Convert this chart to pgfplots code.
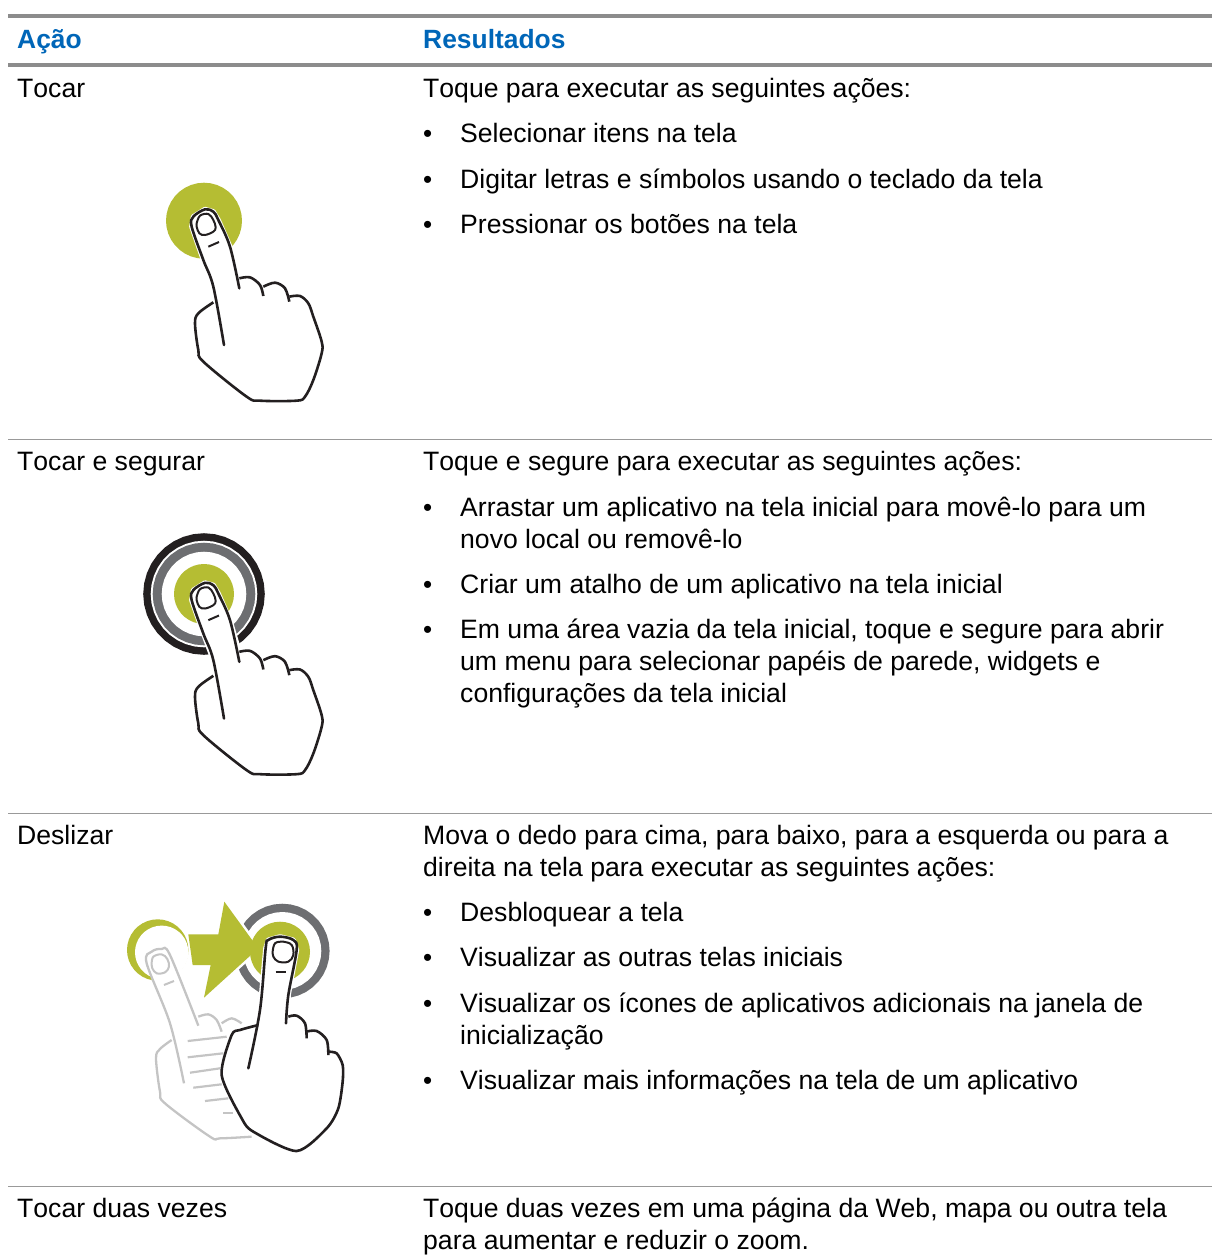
\documentclass[border=0pt]{standalone}
\usepackage{pgfplots}
\pgfplotsset{compat=1.18}
\usepackage{pgfplotstable}
\usepackage{fontspec}
\setmainfont[Kerning=Off]{Liberation Sans}
\definecolor{lime}{HTML}{B5BD33}
\definecolor{ringgray}{HTML}{6D6E71}
\definecolor{ink}{HTML}{231F20}
\definecolor{ghost}{HTML}{C4C4C4}
\definecolor{headblue}{HTML}{0066B8}
\definecolor{rulecol}{HTML}{8C8C8C}
\definecolor{thincol}{HTML}{999999}
\pgfplotstableread{
x y
1 0
.9848 .1736
.9397 .3420
.8660 .5
.7660 .6428
.6428 .7660
.5 .8660
.3420 .9397
.1736 .9848
0 1
-.1736 .9848
-.3420 .9397
-.5 .8660
-.6428 .7660
-.7660 .6428
-.8660 .5
-.9397 .3420
-.9848 .1736
-1 0
-.9848 -.1736
-.9397 -.3420
-.8660 -.5
-.7660 -.6428
-.6428 -.7660
-.5 -.8660
-.3420 -.9397
-.1736 -.9848
0 -1
.1736 -.9848
.3420 -.9397
.5 -.8660
.6428 -.7660
.7660 -.6428
.8660 -.5
.9397 -.3420
.9848 -.1736
}\Unit
% hand 1 (zoomed coordinates)
\pgfplotstableread{
x y
222 525
190 350
160 270
125 170
130 140
165 118
190 125
205 150
240 230
268 355
}\HFinger
\pgfplotstableread{
x y
268 325
300 322
330 345
340 378
}\HKa
\pgfplotstableread{
x y
340 350
375 338
405 355
418 395
}\HKb
\pgfplotstableread{
x y
418 380
450 378
475 400
490 440
515 515
515 550
490 630
465 680
440 692
330 692
290 680
160 575
145 540
135 460
145 430
190 397
}\HPalm
\pgfplotstableread{
x y
140 160
150 137
175 132
190 150
197 172
190 185
165 195
148 190
140 170
140 160
}\HNail
\pgfplotstableread{
x y
175 230
207 216
}\HTick
\pgfplotstableread{
x y
190 397
190 350
160 270
125 170
130 140
165 118
190 125
205 150
240 230
268 325
300 322
340 350
375 338
418 380
450 378
475 400
490 440
515 515
515 550
490 630
465 680
440 692
330 692
290 680
160 575
145 540
135 460
145 430
190 397
}\HFill
% hand 3
\pgfplotstableread{
x y
385 520
420 345
437 160
445 135
480 125
520 135
530 165
505 300
498 385
}\TFinger
\pgfplotstableread{
x y
505 365
530 362
555 385
560 430
}\TKa
\pgfplotstableread{
x y
558 410
590 408
620 435
625 480
}\TKb
\pgfplotstableread{
x y
625 470
650 475
668 510
668 560
655 640
620 700
530 768
400 710
365 670
305 540
335 420
360 405
415 390
}\TPalm
\pgfplotstableread{
x y
458 170
465 145
490 140
515 150
520 180
505 200
475 200
460 185
458 170
}\TNail
\pgfplotstableread{
x y
467 232
498 232
}\TTick
\pgfplotstableread{
x y
415 390
420 345
437 160
445 135
480 125
520 135
530 165
505 300
505 365
530 362
558 410
590 408
625 470
650 475
668 510
668 560
655 640
620 700
530 768
400 710
365 670
305 540
335 420
360 405
415 390
}\TFill
% ghost hand
\pgfplotstableread{
x y
192 565
150 385
80 205
95 170
125 162
150 180
235 392
}\GFinger
\pgfplotstableread{
x y
80 205
95 170
125 162
150 180
235 392
150 385
}\GFill
\pgfplotstableread{
x y
95 205
100 185
125 178
142 192
147 215
135 232
110 235
97 220
95 205
}\GNail
\pgfplotstableread{
x y
132 270
162 258
}\GTick
\pgfplotstableread{
x y
235 365
265 358
290 375
305 410
}\GKa
\pgfplotstableread{
x y
305 385
335 370
365 385
}\GKb
\pgfplotstableread{
x y
155 435
120 462
108 490
120 590
135 625
270 725
300 730
395 725
}\GPalm
\pgfplotstableread{
x y
205 118
295 118
313 20
400 140
393 180
252 308
272 210
218 210
205 118
}\Arrow
\newcommand\HP[4]{\addplot[#1] table[x expr=\thisrow{x}/3+#3, y expr=\thisrow{y}/3+#4] {#2};}
\newcommand\Hand[2]{%
 \HP{fill=white,draw=white,line width=5pt,line join=round}{\HFill}{#1}{#2}
 \HP{ink,line width=2.6pt,smooth,tension=.55,line cap=round}{\HFinger}{#1}{#2}
 \HP{ink,line width=2.6pt,smooth,tension=.55}{\HKa}{#1}{#2}
 \HP{ink,line width=2.6pt,smooth,tension=.55}{\HKb}{#1}{#2}
 \HP{ink,line width=2.6pt,smooth,tension=.55}{\HPalm}{#1}{#2}
 \HP{ink,line width=2pt,smooth,tension=.6}{\HNail}{#1}{#2}
 \HP{ink,line width=2pt}{\HTick}{#1}{#2}
}
\newcommand\Disc[4]{\addplot[fill=#1,draw=none] table[x expr=\thisrow{x}*#4+#2, y expr=\thisrow{y}*#4+#3] {\Unit};}
\newcommand\T[3]{\node[anchor=base west,inner sep=0pt,font=\fontsize{26.6}{32}\selectfont,text=black] at (axis cs:#1,#2) {#3};}
\newcommand\B[2]{\node[anchor=base west,inner sep=0pt,font=\fontsize{26}{26}\selectfont,text=black] at (axis cs:#1,#2) {•};}
\begin{document}
\begin{tikzpicture}[x=1pt,y=1pt]
\useasboundingbox (0,0) rectangle (1212,1258);
\begin{axis}[at={(0,0)},anchor=south west,scale only axis,width=1212pt,height=1258pt,
  xmin=0,xmax=1212,ymin=0,ymax=1258,y dir=reverse,hide axis]
% rules
\addplot[rulecol,line width=4pt] coordinates {(8,15.5) (1212,15.5)};
\addplot[rulecol,line width=4pt] coordinates {(8,64.5) (1212,64.5)};
\addplot[thincol,line width=1pt] coordinates {(8,439.5) (1212,439.5)};
\addplot[thincol,line width=1pt] coordinates {(8,813) (1212,813)};
\addplot[thincol,line width=1pt] coordinates {(8,1186.5) (1212,1186.5)};
% icon 1
\Disc{lime}{204}{220.7}{38}
\Hand{150}{170}
% icon 2
\Disc{ink}{204}{594}{60.8}
\Disc{white}{204}{594}{53.3}
\Disc{ringgray}{204}{594}{51.3}
\Disc{white}{204}{594}{42.3}
\Disc{lime}{204}{594}{30}
\Hand{150}{543.5}
% icon 3
\Disc{ringgray}{282.3}{951}{47.3}
\Disc{white}{282.3}{951}{39}
\HP{fill=white,draw=white,line width=5pt}{\Arrow}{120}{895}
\Disc{lime}{157.7}{950}{30.7}
\Disc{lime}{280}{951.7}{30}
\HP{fill=lime,draw=none}{\Arrow}{120}{895}
\Disc{white}{161.7}{952.3}{26.7}
\HP{fill=white,draw=white,line width=4pt}{\GFill}{120}{895}
\HP{ghost,line width=2.3pt,smooth,tension=.55}{\GFinger}{120}{895}
\HP{ghost,line width=2.3pt,smooth,tension=.55}{\GKa}{120}{895}
\HP{ghost,line width=2.3pt,smooth,tension=.55}{\GKb}{120}{895}
\HP{ghost,line width=2.3pt,smooth,tension=.55}{\GPalm}{120}{895}
\HP{ghost,line width=2pt,smooth,tension=.6}{\GNail}{120}{895}
\HP{ghost,line width=2pt}{\GTick}{120}{895}
\addplot[ghost,line width=2.2pt] coordinates {(187.7,1041) (226.7,1036.7)};
\addplot[ghost,line width=2.2pt] coordinates {(187.7,1057.3) (223.3,1053.3)};
\addplot[ghost,line width=2.2pt] coordinates {(190,1072.7) (220,1068.3)};
\addplot[ghost,line width=2.2pt] coordinates {(193.3,1087.7) (221.7,1084.3)};
\addplot[ghost,line width=2.2pt] coordinates {(205,1101) (228.3,1098.3)};
\addplot[ghost,line width=2.2pt] coordinates {(223.3,1113.3) (233.3,1113.3)};
\HP{fill=white,draw=white,line width=5pt,line join=round}{\TFill}{120}{895}
\HP{ink,line width=2.6pt,smooth,tension=.55,line cap=round}{\TFinger}{120}{895}
\HP{ink,line width=2.6pt,smooth,tension=.55}{\TKa}{120}{895}
\HP{ink,line width=2.6pt,smooth,tension=.55}{\TKb}{120}{895}
\HP{ink,line width=2.6pt,smooth,tension=.45}{\TPalm}{120}{895}
\HP{ink,line width=2pt,smooth,tension=.6}{\TNail}{120}{895}
\HP{ink,line width=2pt}{\TTick}{120}{895}
% text
\node[anchor=base west,inner sep=0pt,font=\fontsize{26.4}{32}\selectfont\bfseries,text=headblue] at (axis cs:17,48) {Ação};
\node[anchor=base west,inner sep=0pt,font=\fontsize{26.4}{32}\selectfont\bfseries,text=headblue] at (axis cs:423,48) {Resultados};
\T{17}{97}{Tocar}
\T{423}{97}{Toque para executar as seguintes ações:}
\B{423}{142}\T{460}{142}{Selecionar itens na tela}
\B{423}{188}\T{460}{188}{Digitar letras e símbolos usando o teclado da tela}
\B{423}{233}\T{460}{233}{Pressionar os botões na tela}
\T{17}{470}{Tocar e segurar}
\T{423}{470}{Toque e segure para executar as seguintes ações:}
\B{423}{516}\T{460}{516}{Arrastar um aplicativo na tela inicial para movê-lo para um}
\T{460}{548}{novo local ou removê-lo}
\B{423}{593}\T{460}{593}{Criar um atalho de um aplicativo na tela inicial}
\B{423}{638}\T{460}{638}{Em uma área vazia da tela inicial, toque e segure para abrir}
\T{460}{670}{um menu para selecionar papéis de parede, widgets e}
\T{460}{702}{configurações da tela inicial}
\T{17}{844}{Deslizar}
\T{423}{844}{Mova o dedo para cima, para baixo, para a esquerda ou para a}
\T{423}{876}{direita na tela para executar as seguintes ações:}
\B{423}{921}\T{460}{921}{Desbloquear a tela}
\B{423}{966}\T{460}{966}{Visualizar as outras telas iniciais}
\B{423}{1012}\T{460}{1012}{Visualizar os ícones de aplicativos adicionais na janela de}
\T{460}{1044}{inicialização}
\B{423}{1089}\T{460}{1089}{Visualizar mais informações na tela de um aplicativo}
\T{17}{1217}{Tocar duas vezes}
\T{423}{1217}{Toque duas vezes em uma página da Web, mapa ou outra tela}
\T{423}{1249}{para aumentar e reduzir o zoom.}
\end{axis}
\end{tikzpicture}
\end{document}
